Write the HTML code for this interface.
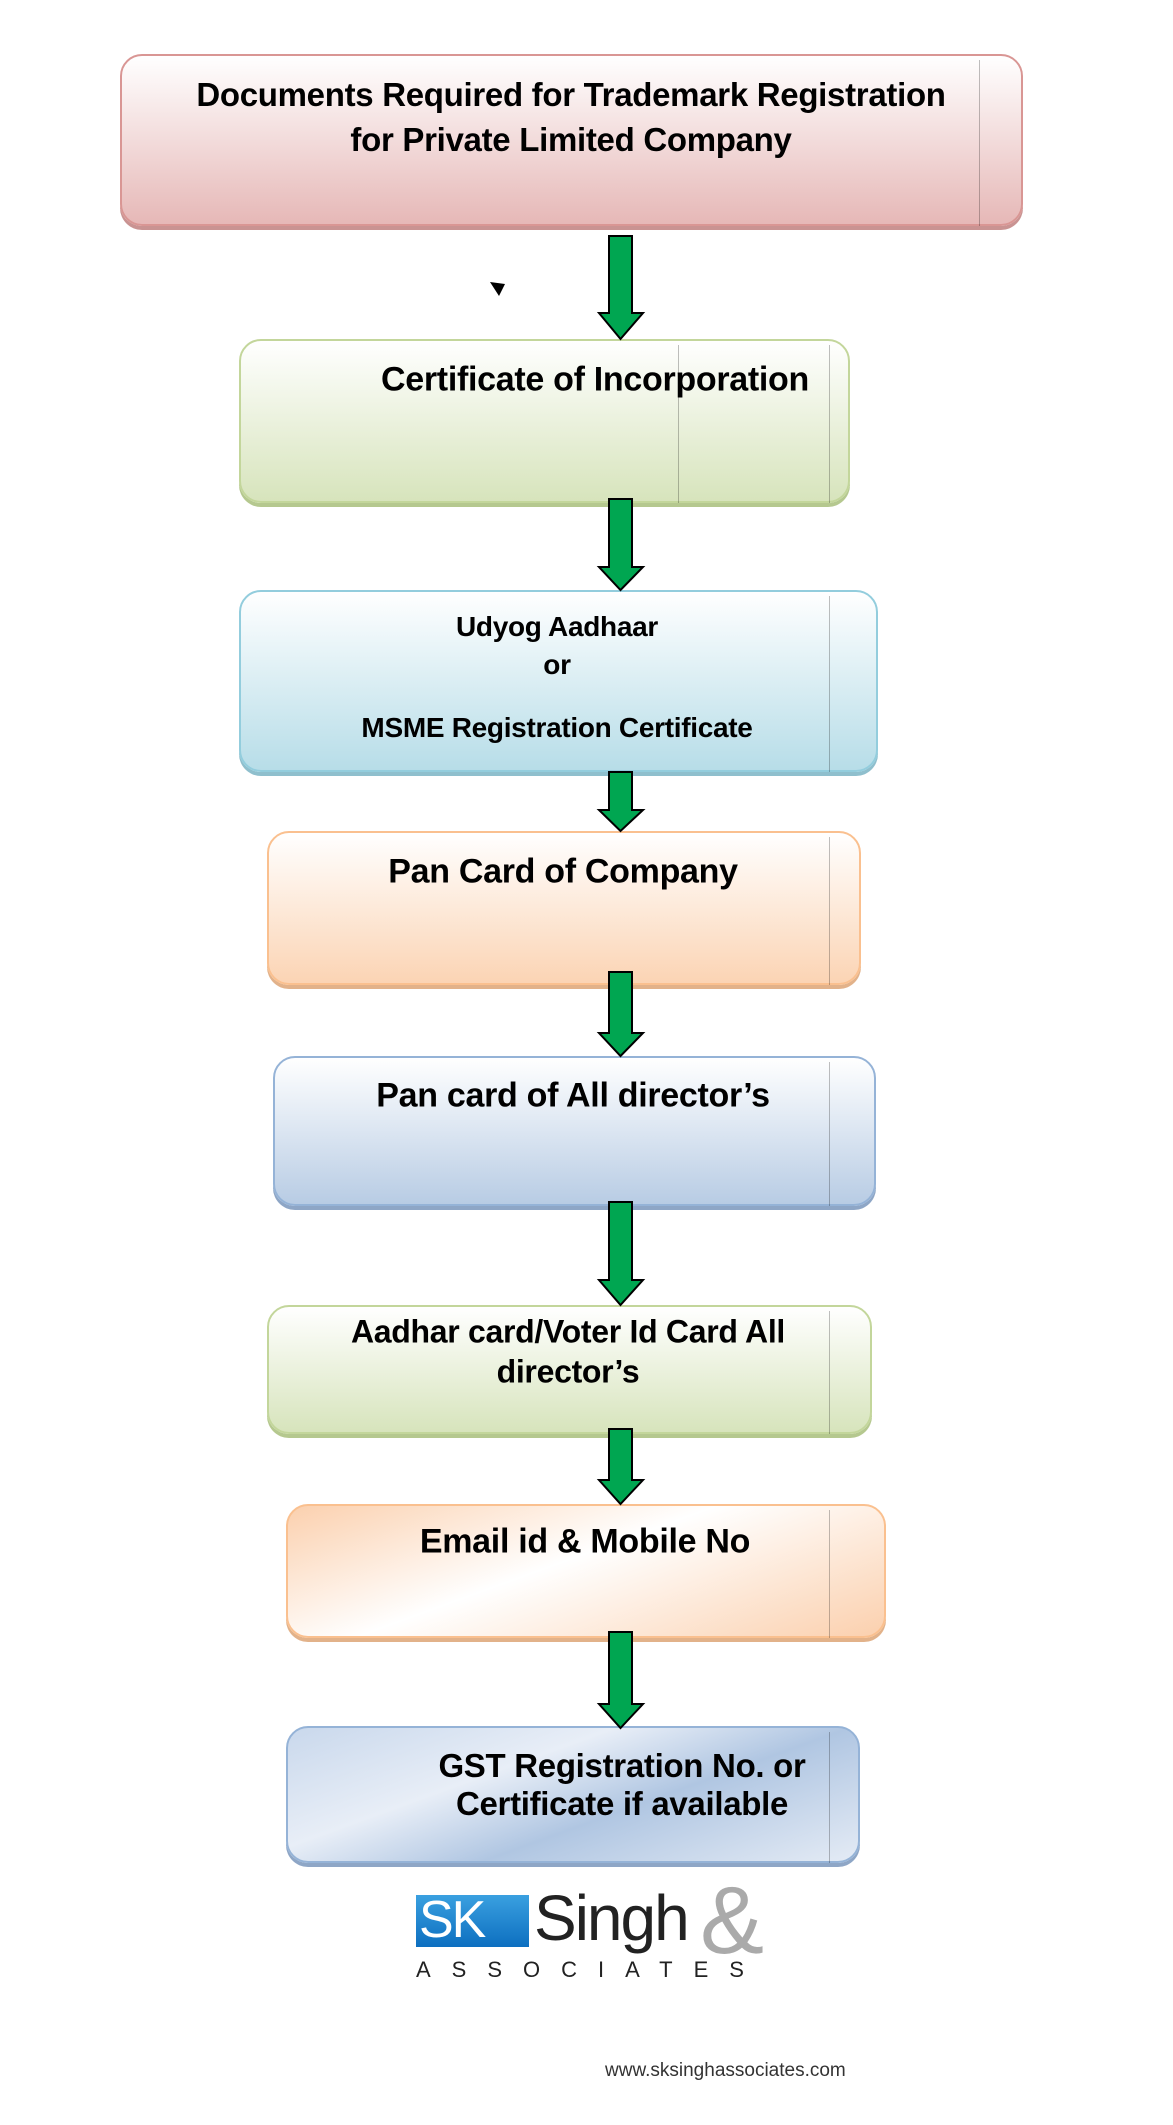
<!DOCTYPE html>
<html><head><meta charset="utf-8"><style>
body{margin:0;width:1173px;height:2125px;background:#fff;position:relative;overflow:hidden;font-family:"Liberation Sans",Arial,sans-serif}
.b{position:absolute;border-radius:22px;box-sizing:border-box;border:2px solid}
.t{position:absolute;font-weight:bold;color:#000;white-space:nowrap;transform:translate(-50%,-50%);text-align:center;letter-spacing:-0.3px}
.v{position:absolute;width:1px;background:rgba(0,0,0,0.25)}
</style></head><body>
<div class="b" style="left:120px;top:54px;width:903px;height:172px;border-color:#d99694;background:linear-gradient(#fff,#e6b8b7);box-shadow:0 4px 0 #c99392"></div>
<div class="v" style="left:979px;top:60px;height:166px"></div>
<div class="t" style="left:571px;top:95px;font-size:33px">Documents Required for Trademark Registration</div>
<div class="t" style="left:571px;top:140px;font-size:33px">for Private Limited Company</div>

<div class="b" style="left:239px;top:339px;width:611px;height:164px;border-color:#c3d69b;background:linear-gradient(#fff,#d7e4bc);box-shadow:0 4px 0 #b5c88f"></div>
<div class="v" style="left:678px;top:345px;height:158px"></div><div class="v" style="left:829px;top:345px;height:158px"></div>
<div class="t" style="left:595px;top:380px;font-size:34px">Certificate of Incorporation</div>

<div class="b" style="left:239px;top:590px;width:639px;height:182px;border-color:#93cddd;background:linear-gradient(#fff,#b7dde8);box-shadow:0 4px 0 #8fbfcd"></div>
<div class="v" style="left:829px;top:596px;height:176px"></div>
<div class="t" style="left:557px;top:627px;font-size:28px">Udyog Aadhaar</div>
<div class="t" style="left:557px;top:665px;font-size:28px">or</div>
<div class="t" style="left:557px;top:728px;font-size:28px">MSME Registration Certificate</div>

<div class="b" style="left:267px;top:831px;width:594px;height:154px;border-color:#fac08f;background:linear-gradient(#fff,#fbd4b4);box-shadow:0 4px 0 #e2b28a"></div>
<div class="v" style="left:829px;top:837px;height:148px"></div>
<div class="t" style="left:563px;top:872px;font-size:34px">Pan Card of Company</div>

<div class="b" style="left:273px;top:1056px;width:603px;height:150px;border-color:#95b3d7;background:linear-gradient(#fff,#b8cce4);box-shadow:0 4px 0 #8ea6c6"></div>
<div class="v" style="left:829px;top:1062px;height:144px"></div>
<div class="t" style="left:573px;top:1096px;font-size:34px">Pan card of All director’s</div>

<div class="b" style="left:267px;top:1305px;width:605px;height:129px;border-color:#c3d69b;background:linear-gradient(#fff,#d7e4bc);box-shadow:0 4px 0 #b5c88f"></div>
<div class="v" style="left:829px;top:1311px;height:123px"></div>
<div class="t" style="left:568px;top:1332px;font-size:32px">Aadhar card/Voter Id Card All</div>
<div class="t" style="left:568px;top:1372px;font-size:32px">director’s</div>

<div class="b" style="left:286px;top:1504px;width:600px;height:134px;border-color:#fac08f;background:linear-gradient(160deg,#fbd0ae 0%,#fff 45%,#fbd0ae 100%);box-shadow:0 4px 0 #e2b28a"></div>
<div class="v" style="left:829px;top:1510px;height:128px"></div>
<div class="t" style="left:585px;top:1542px;font-size:34px">Email id &amp; Mobile No</div>

<div class="b" style="left:286px;top:1726px;width:574px;height:137px;border-color:#95b3d7;background:linear-gradient(160deg,#c9d8ec 0%,#e8eef7 35%,#b0c6e2 60%,#e4ebf5 100%);box-shadow:0 4px 0 #8ea6c6"></div>
<div class="v" style="left:829px;top:1732px;height:131px"></div>
<div class="t" style="left:622px;top:1766px;font-size:33px">GST Registration No. or</div>
<div class="t" style="left:622px;top:1804px;font-size:33px">Certificate if available</div>

<svg width="1173" height="2125" style="position:absolute;left:0;top:0">
<g fill="#00a651" stroke="#000" stroke-width="2">
<polygon points="609,236 632,236 632,313 643,313 620.5,339 599,313 609,313"/>
<polygon points="609,499 632,499 632,567 643,567 620.5,590 599,567 609,567"/>
<polygon points="609,772 632,772 632,810 643,810 620.5,831 599,810 609,810"/>
<polygon points="609,972 632,972 632,1033 643,1033 620.5,1056 599,1033 609,1033"/>
<polygon points="609,1202 632,1202 632,1280 643,1280 620.5,1305 599,1280 609,1280"/>
<polygon points="609,1429 632,1429 632,1480 643,1480 620.5,1504 599,1480 609,1480"/>
<polygon points="609,1632 632,1632 632,1704 643,1704 620.5,1728 599,1704 609,1704"/>
</g>
<polygon points="490,282 505,284 499,296" fill="#000"/>
</svg>

<div style="position:absolute;left:416px;top:1895px;width:113px;height:52px;background:linear-gradient(#3aa0e0,#0d6fc0);"></div>
<div style="position:absolute;left:419px;top:1892px;font-size:52px;color:#fff;line-height:56px;letter-spacing:-2px">SK</div>
<div style="position:absolute;left:700px;top:1866px;font-size:96px;color:#aaa;line-height:110px">&amp;</div>
<div style="position:absolute;left:534px;top:1884px;font-size:64px;color:#222;line-height:68px;letter-spacing:-2px">Singh</div>
<div style="position:absolute;left:416px;top:1958px;font-size:22px;color:#222;letter-spacing:21px;line-height:24px">ASSOCIATES</div>
<div style="position:absolute;left:605px;top:2060px;font-size:19px;color:#333">www.sksinghassociates.com</div>
</body></html>
